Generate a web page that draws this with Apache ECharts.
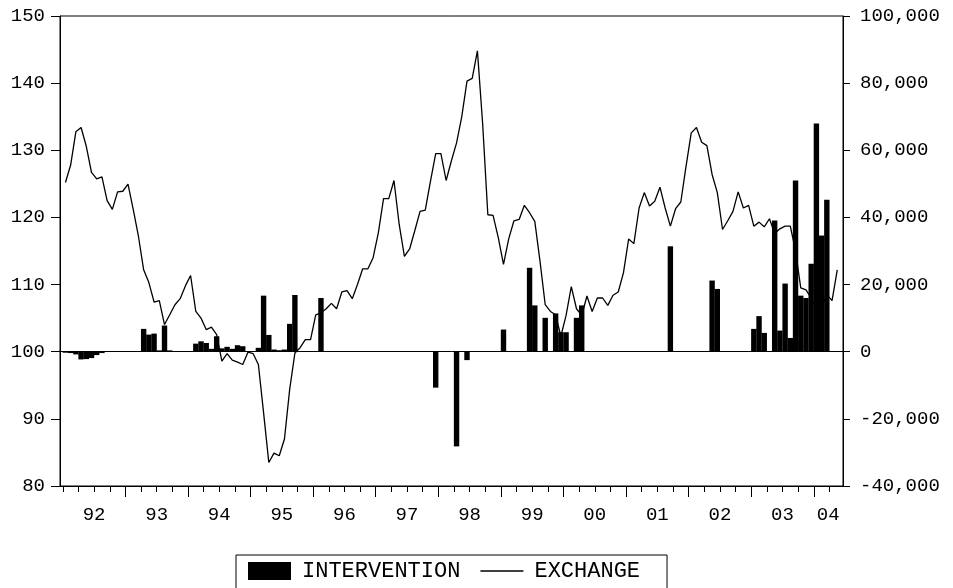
<!DOCTYPE html>
<html><head><meta charset="utf-8">
<script src="https://cdn.jsdelivr.net/npm/echarts@6/dist/echarts.min.js"></script>
<style>html,body{margin:0;padding:0;background:#fff}#c{width:953px;height:588px}</style>
</head><body><div id="c"></div>
<script>
// Tick labels (year labels, centred within each year)
const yearLabels = ['92','93','94','95','96','97','98','99','00','01','02','03','04'];
const leftTicks = [80, 90, 100, 110, 120, 130, 140, 150];
const rightTicks = [-40000, -20000, 0, 20000, 40000, 60000, 80000, 100000];

// Monthly EXCHANGE (yen per dollar), Jan 1992 .. May 2004
const exchange92 = [125.2,127.8,132.75,133.4,130.6,126.7,125.75,126.05,122.5,121.2,123.8,123.9];
const exchange93 = [124.95,121.2,117.2,112.2,110.3,107.4,107.6,104.05,105.5,107.0,107.9,109.8];
const exchange94 = [111.35,106.0,105.0,103.3,103.65,102.56,98.6,99.73,98.74,98.45,98.1,99.93];
const exchange95 = [99.7,98.1,90.9,83.5,84.9,84.5,87.0,94.4,99.8,100.6,101.8,101.8];
const exchange96 = [105.5,105.8,106.4,107.2,106.4,108.9,109.1,107.9,110.0,112.35,112.35,114.0];
const exchange97 = [117.7,122.8,122.8,125.5,118.95,114.2,115.3,118.05,120.9,121.1,125.4,129.5];
const exchange98 = [129.5,125.5,128.4,131.1,135.0,140.3,140.7,144.8,134.0,120.4,120.3,117.0];
const exchange99 = [113.0,116.8,119.5,119.7,121.8,120.7,119.4,113.5,107.0,106.0,105.5,102.3];
const exchange00 = [105.4,109.7,106.4,105.4,108.3,106.0,108.0,108.0,106.9,108.4,108.9,111.75];
const exchange01 = [116.8,116.1,121.4,123.7,121.7,122.4,124.5,121.4,118.7,121.3,122.3,127.6];
const exchange02 = [132.6,133.4,131.2,130.7,126.4,123.7,118.2,119.5,120.9,123.8,121.4,121.8];
const exchange03 = [118.7,119.3,118.6,119.8,117.6,118.3,118.7,118.7,115.0,109.5,109.2,108.0];
const exchange04 = [106.3,106.7,108.5,107.6,112.2];

// Monthly INTERVENTION, Jan 1992 .. Mar 2004
const intervention92 = [-300,-400,-800,-2300,-2200,-1900,-1000,-400,0,0,0,0];
const intervention93 = [0,0,0,6800,5100,5400,400,7800,400,0,0,0];
const intervention94 = [0,2400,3100,2600,860,4600,1000,1460,860,1940,1640,0];
const intervention95 = [0,1160,16700,5000,650,450,650,8300,16900,0,0,0];
const intervention96 = [0,16000,0,0,0,0,0,0,0,0,0,0];
const intervention97 = [0,0,0,0,0,0,0,0,0,0,0,-10700];
const intervention98 = [0,0,0,-28200,0,-2500,0,0,0,0,0,0];
const intervention99 = [6600,0,0,0,0,25000,13800,0,10100,0,11400,5800];
const intervention00 = [5800,0,10100,13800,0,0,0,0,0,0,0,0];
const intervention01 = [0,0,0,0,0,0,0,0,31400,0,0,0];
const intervention02 = [0,0,0,0,21200,18700,0,0,0,0,0,0];
const intervention03 = [6800,10600,5600,0,39100,6300,20300,4100,51000,16700,16000,26200];
const intervention04 = [68000,34600,45300];

const exchange = [].concat(exchange92,exchange93,exchange94,exchange95,exchange96,exchange97,
  exchange98,exchange99,exchange00,exchange01,exchange02,exchange03,exchange04);
const intervention = [].concat(intervention92,intervention93,intervention94,intervention95,intervention96,
  intervention97,intervention98,intervention99,intervention00,intervention01,intervention02,intervention03,intervention04);

// month index m (0 = Jan 1992) is centred at m + 0.5 on the time axis
const exData = exchange.map((v, i) => [i + 0.5, v]);
const intData = intervention.map((v, i) => [i + 0.5, v === 0 ? null : v]);

const minorTicks = []; for (let m = 0; m <= 147; m += 3) minorTicks.push(m);
const majorTicks = []; for (let m = 12; m <= 144; m += 12) majorTicks.push(m);
const labelPos = []; for (let k = 0; k < 12; k++) labelPos.push(6 + 12 * k); labelPos.push(146.75);

const FONT = 'Liberation Mono';
const xMin = -0.54, xMax = 149.6;

const chart = echarts.init(document.getElementById('c'), null, {renderer: 'canvas'});
chart.setOption({
  animation: false,
  backgroundColor: '#fff',
  grid: {left: 60, top: 16, width: 783, height: 470, show: true, borderColor: '#000', borderWidth: 1, backgroundColor: 'transparent'},
  legend: {
    left: 236, top: 555, orient: 'horizontal',
    itemWidth: 43, itemHeight: 18, itemGap: 20,
    padding: [5, 27, 20, 12],
    borderColor: '#000', borderWidth: 1,
    textStyle: {fontFamily: FONT, fontSize: 22, color: '#000', padding: [0, 0, 0, 6]},
    data: [
      {name: 'INTERVENTION', icon: 'rect'},
      {name: 'EXCHANGE', icon: 'path://M0,0H43V1.3H0Z'}
    ]
  },
  xAxis: [{
    type: 'value', min: xMin, max: xMax, position: 'bottom',
    axisLine: {show: true, onZero: false, lineStyle: {color: '#000', width: 1}},
    axisTick: {show: true, length: 6, customValues: minorTicks, lineStyle: {color: '#000'}},
    axisLabel: {customValues: labelPos, margin: 19, fontFamily: FONT, fontSize: 19, color: '#000',
      formatter: v => yearLabels[Math.round((v - 6) / 12)]},
    splitLine: {show: false}
  }, {
    type: 'value', min: xMin, max: xMax, position: 'bottom',
    axisLine: {show: false, onZero: false},
    axisTick: {show: true, length: 11, customValues: majorTicks, lineStyle: {color: '#000'}},
    axisLabel: {show: false},
    splitLine: {show: false}
  }],
  yAxis: [{
    type: 'value', min: leftTicks[0], max: leftTicks[leftTicks.length - 1], interval: 10, position: 'left',
    axisLine: {show: true, onZero: false, lineStyle: {color: '#000'}},
    axisTick: {show: true, length: 9, lineStyle: {color: '#000'}},
    axisLabel: {margin: 15, fontFamily: FONT, fontSize: 19, color: '#000'},
    splitLine: {show: false}
  }, {
    type: 'value', min: rightTicks[0], max: rightTicks[rightTicks.length - 1], interval: 20000, position: 'right',
    axisLine: {show: true, onZero: false, lineStyle: {color: '#000'}},
    axisTick: {show: true, length: 7, lineStyle: {color: '#000'}},
    axisLabel: {margin: 17, fontFamily: FONT, fontSize: 19, color: '#000',
      formatter: v => v.toLocaleString('en-US')},
    splitLine: {show: false}
  }],
  series: [{
    name: 'INTERVENTION', type: 'bar', xAxisIndex: 0, yAxisIndex: 1,
    data: intData, barWidth: 5.4,
    itemStyle: {color: '#000'},
    markLine: {silent: true, symbol: 'none', label: {show: false},
      lineStyle: {color: '#000', width: 1, type: 'solid'}, data: [{yAxis: 0}]}
  }, {
    name: 'EXCHANGE', type: 'line', xAxisIndex: 0, yAxisIndex: 0,
    data: exData, symbol: 'none', showSymbol: false,
    lineStyle: {color: '#000', width: 1.3},
    itemStyle: {color: '#000'}
  }]
});
</script>
</body></html>
